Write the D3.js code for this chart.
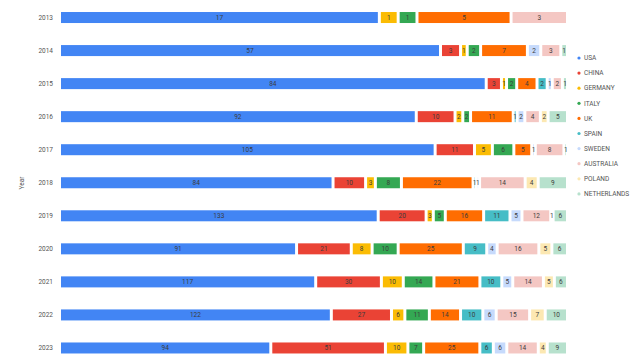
<!DOCTYPE html>
<html>
<head>
<meta charset="utf-8">
<script src="https://cdn.jsdelivr.net/npm/d3@7"></script>
<style>
  html, body { margin: 0; padding: 0; background: #fff; }
  svg { display: block; font-family: Roboto, "Noto Sans", sans-serif; }
</style>
</head>
<body>
<svg id="chart" width="643" height="361"></svg>
<script>
// Yearly counts per country, stacked to 100% for each year
const years = ["2013","2014","2015","2016","2017","2018","2019","2020","2021","2022","2023"];
const countries = ["USA","CHINA","GERMANY","ITALY","UK","SPAIN","SWEDEN","AUSTRALIA","POLAND","NETHERLANDS"];

const usa         = [17, 57, 84, 92, 105, 84, 133, 91, 117, 122, 94];
const china       = [0, 3, 3, 10, 11, 10, 20, 21, 30, 27, 51];
const germany     = [1, 1, 1, 2, 5, 3, 3, 8, 10, 6, 10];
const italy       = [1, 2, 2, 2, 6, 8, 5, 10, 14, 11, 7];
const uk          = [5, 7, 4, 11, 5, 22, 16, 25, 21, 14, 25];
const spain       = [0, 0, 2, 1, 0, 1, 11, 9, 10, 10, 6];
const sweden      = [0, 2, 1, 2, 1, 1, 5, 4, 5, 6, 6];
const australia   = [3, 3, 2, 4, 8, 14, 12, 16, 14, 15, 14];
const poland      = [0, 0, 0, 2, 0, 4, 1, 5, 5, 7, 4];
const netherlands = [0, 1, 1, 5, 1, 9, 6, 6, 6, 10, 9];

const colors = ["#4285F4","#EA4335","#FBBC04","#34A853","#FF6D01","#46BDC6","#C6DAFC","#F4C7C3","#FCE8B2","#B7E1CD"];

const seriesValues = [usa, china, germany, italy, uk, spain, sweden, australia, poland, netherlands];
const rows = years.map((y, i) => {
  const r = { year: y };
  countries.forEach((c, k) => { r[c] = seriesValues[k][i]; });
  return r;
});

const svg = d3.select("#chart");
const margin = { left: 61, right: 74 };
const W = 643;

const x = d3.scaleLinear().domain([0, 1]).range([margin.left, W - margin.right]);
const y = d3.scaleBand().domain(years).range([1, 364.5]).paddingInner(0.667).paddingOuter(0.3335);

const stack = d3.stack().keys(countries).offset(d3.stackOffsetExpand);
const layers = stack(rows);
const color = d3.scaleOrdinal().domain(countries).range(colors);
const gap = 3;

const g = svg.append("g");
const layerG = g.selectAll("g.layer").data(layers).join("g")
  .attr("class", "layer")
  .attr("fill", d => color(d.key));

layerG.selectAll("rect").data(d => d.map(p => ({ p, key: d.key })))
  .join("rect")
  .attr("x", d => x(d.p[0]))
  .attr("y", d => y(d.p.data.year))
  .attr("height", y.bandwidth())
  .attr("width", d => Math.max(0, x(d.p[1]) - x(d.p[0]) - gap));

// value labels centred in each segment
layerG.selectAll("text").data(d => d.map(p => ({ p, key: d.key })).filter(d => d.p.data[d.key] > 0))
  .join("text")
  .attr("x", d => (x(d.p[0]) + x(d.p[1]) - gap) / 2)
  .attr("y", d => y(d.p.data.year) + y.bandwidth() / 2)
  .attr("dy", "0.35em")
  .attr("text-anchor", "middle")
  .attr("font-size", 6.5)
  .attr("fill", "#3c3c3c")
  .text(d => d.p.data[d.key]);

// year axis
const yAxis = d3.axisLeft(y).tickSize(0).tickPadding(8);
const ya = svg.append("g").attr("transform", `translate(${margin.left},0)`).call(yAxis);
ya.select(".domain").remove();
ya.selectAll("text").attr("font-size", 6.5).attr("fill", "#555").attr("font-family", "Roboto, sans-serif");

svg.append("text")
  .attr("transform", `translate(24,183) rotate(-90)`)
  .attr("text-anchor", "middle")
  .attr("font-size", 6.5)
  .attr("fill", "#555")
  .text("Year");

// legend
const legend = svg.append("g").attr("transform", "translate(579,58)");
const li = legend.selectAll("g").data(countries).join("g")
  .attr("transform", (d, i) => `translate(0,${i * 15.1})`);
li.append("circle").attr("r", 1.6).attr("cx", 0).attr("cy", 0).attr("fill", d => color(d));
li.append("text").attr("x", 5).attr("dy", "0.35em")
  .attr("font-size", 6.5).attr("fill", "#555").text(d => d);
</script>
</body>
</html>
